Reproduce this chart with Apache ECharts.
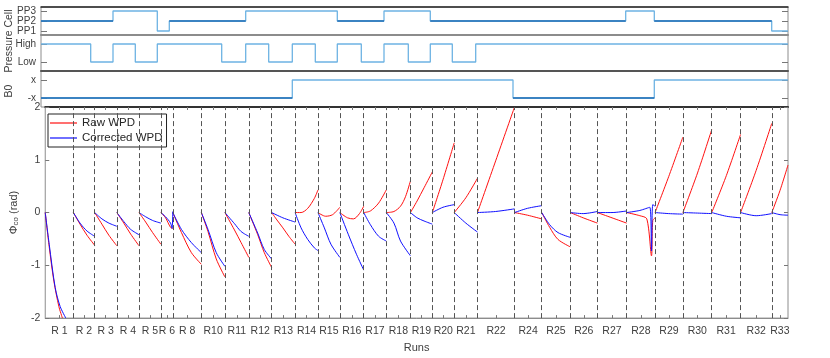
<!DOCTYPE html>
<html>
<head>
<meta charset="utf-8">
<script src="https://cdn.jsdelivr.net/npm/echarts@6/dist/echarts.min.js"></script>
<style>
  html, body { margin: 0; padding: 0; background: #fff; }
  #chart { width: 830px; height: 358px; }
</style>
</head>
<body>
<div id="chart"></div>
<script>
// run labels and run boundaries (time axis, arbitrary units)
const runLabels = ['R 1', 'R 2', 'R 3', 'R 4', 'R 5', 'R 6', 'R 8', 'R10', 'R11', 'R12',
  'R13', 'R14', 'R15', 'R16', 'R17', 'R18', 'R19', 'R20', 'R21', 'R22',
  'R24', 'R25', 'R26', 'R27', 'R28', 'R29', 'R30', 'R31', 'R32', 'R33'];
const runBounds = [0, 28.3, 49.7, 72, 94.3, 116.3, 128.3, 157, 180.7, 204.7,
  227.7, 251.3, 274.3, 296.3, 320.3, 343, 367.3, 389.3, 411.3, 434.7,
  472, 499.3, 528, 555.3, 584.7, 613.3, 641.3, 670.3, 699.3, 730.7, 747];

// top panels: [start, level]
const ppNames = ['PP1', 'PP2', 'PP3'];
const ppSteps = [[0, 2], [72, 3], [116.3, 1], [128.3, 2], [204.7, 3], [296.3, 2], [343, 3],
  [389.3, 2], [584.7, 3], [613.3, 2], [730.7, 1], [747, 1]];
const pressureNames = ['Low', 'High'];
const pressureSteps = [[0, 1], [49.7, 0], [72, 1], [94.3, 0], [116.3, 1], [180.7, 0], [204.7, 1],
  [227.7, 0], [251.3, 1], [274.3, 0], [296.3, 1], [320.3, 0], [343, 1], [367.3, 0],
  [389.3, 1], [411.3, 0], [434.7, 1], [747, 1]];
const b0Steps = [[0, -1], [251.3, 1], [472, -1], [613.3, 1], [747, 1]];

// phase per run, [t, rad]
const rawWPD = [
  [[0, 0], [4, -0.65], [8.7, -1.3], [13.7, -1.78], [17.3, -2.0]],
  [[28.3, 0], [35, -0.22], [42, -0.43], [49.7, -0.62]],
  [[49.7, 0], [57, -0.22], [64, -0.43], [72, -0.63]],
  [[72, 0], [79, -0.2], [86, -0.41], [94.3, -0.63]],
  [[94.3, 0], [101, -0.18], [108, -0.38], [116.3, -0.6]],
  [[116.3, 0], [121, -0.1], [126, -0.28], [128.3, -0.3]],
  [[128.3, 0], [137, -0.38], [147, -0.76], [157, -0.98]],
  [[157, 0], [163.7, -0.36], [172, -0.88], [180.7, -1.22]],
  [[180.7, 0], [190.3, -0.33], [197, -0.57], [204.7, -0.85]],
  [[204.7, 0], [213.7, -0.42], [220.3, -0.76], [227.7, -1.04]],
  [[227.7, 0], [233, -0.14], [239, -0.29], [245, -0.45], [251.3, -0.6]],
  [[251.3, 0], [257.3, 0.0], [264, 0.08], [270.7, 0.27], [274.3, 0.43]],
  [[274.3, 0], [282, -0.07], [289, -0.04], [296.3, 0.1]],
  [[296.3, 0], [304, -0.1], [310, -0.12], [316, -0.02], [320.3, 0.12]],
  [[320.3, 0], [327, 0.03], [335.3, 0.18], [343, 0.43]],
  [[343, 0], [350.7, 0.02], [357.3, 0.12], [362.3, 0.3], [367.3, 0.6]],
  [[367.3, 0], [374, 0.22], [381, 0.47], [389.3, 0.77]],
  [[389.3, 0], [400, 0.62], [411.3, 1.32]],
  [[411.3, 0], [423, 0.28], [434.7, 0.65]],
  [[434.7, 0], [453, 0.98], [472, 2.0]],
  [[472, 0], [485, -0.05], [499.3, -0.12]],
  [[499.3, 0], [507.3, -0.28], [515.7, -0.51], [528, -0.65]],
  [[528, 0], [541, -0.1], [555.3, -0.2]],
  [[555.3, 0], [570, -0.1], [584.7, -0.2]],
  [[584.7, 0], [598, -0.06], [605, -0.12], [609.7, -0.82], [611, -0.15], [613.3, -0.1]],
  [[613.3, 0], [627, 0.68], [641.3, 1.43]],
  [[641.3, 0], [656, 0.75], [670.3, 1.57]],
  [[670.3, 0], [685, 0.7], [699.3, 1.48]],
  [[699.3, 0], [715, 0.8], [730.7, 1.69]],
  [[730.7, 0], [739, 0.42], [747, 0.9]]
];
const corrWPD = [
  [[0, 0], [4, -0.6], [10, -1.42], [15, -1.78], [20.7, -2.0]],
  [[28.3, 0], [35, -0.2], [42, -0.35], [49.7, -0.45]],
  [[49.7, 0], [57, -0.12], [64, -0.2], [72, -0.26]],
  [[72, 0], [79, -0.17], [86, -0.32], [94.3, -0.42]],
  [[94.3, 0], [101, -0.08], [108, -0.15], [116.3, -0.2]],
  [[116.3, 0], [121, -0.08], [126, -0.2], [127.5, -0.3], [128.3, 0.02]],
  [[128.3, 0], [137, -0.32], [147, -0.57], [157, -0.76]],
  [[157, 0], [163.7, -0.32], [172, -0.76], [180.7, -1.02]],
  [[180.7, 0], [190.3, -0.21], [197, -0.36], [204.7, -0.45]],
  [[204.7, 0], [213.7, -0.39], [220.3, -0.7], [227.7, -0.88]],
  [[227.7, 0], [239, -0.1], [251.3, -0.18]],
  [[251.3, 0], [257.3, -0.29], [264, -0.51], [270.7, -0.67], [274.3, -0.72]],
  [[274.3, 0], [280.7, -0.29], [287.3, -0.6], [296.3, -0.85]],
  [[296.3, 0], [304.7, -0.41], [313, -0.79], [320.3, -1.09]],
  [[320.3, 0], [327, -0.23], [335.3, -0.45], [343, -0.54]],
  [[343, 0], [350.7, -0.2], [357.3, -0.54], [367.3, -0.82]],
  [[367.3, 0], [374, -0.1], [381, -0.16], [389.3, -0.22]],
  [[389.3, 0], [400, 0.1], [411.3, 0.15]],
  [[411.3, 0], [423, -0.2], [434.7, -0.37]],
  [[434.7, 0], [453, 0.02], [472, 0.07]],
  [[472, 0], [485, 0.08], [499.3, 0.13]],
  [[499.3, 0], [507.3, -0.23], [515.7, -0.38], [528, -0.47]],
  [[528, 0], [541, -0.02], [555.3, 0.02]],
  [[555.3, 0], [570, 0.0], [584.7, 0.03]],
  [[584.7, 0], [598, 0.04], [608, 0.1], [609.7, -0.73], [611, 0.15], [613.3, 0.12]],
  [[613.3, 0], [627, -0.02], [641.3, -0.03]],
  [[641.3, 0], [656, -0.01], [670.3, -0.02]],
  [[670.3, 0], [685, -0.07], [699.3, -0.1]],
  [[699.3, 0], [715, -0.06], [730.7, -0.02]],
  [[730.7, 0], [739, -0.04], [747, -0.05]]
];

const LIGHT = '#6db3e3';
const DARK = '#1f6db5';
const FONT = 'Liberation Sans, Arial, sans-serif';

const runCenters = runLabels.map((l, i) => (runBounds[i] + runBounds[i + 1]) / 2);

// concat runs, a null point breaks the line
const joinRuns = runs => {
  const out = [];
  runs.forEach(r => {
    r.forEach(p => out.push(p));
    out.push([r[r.length - 1][0], null]);
  });
  return out;
};

// horizontal pieces of a step signal sitting on one level
const levelPieces = (steps, level) => {
  const out = [];
  for (let i = 0; i < steps.length - 1; i++) {
    if (steps[i][1] === level) {
      out.push([steps[i][0], level], [steps[i + 1][0], level], [steps[i + 1][0], null]);
    }
  }
  return out;
};

const near = (a, b) => Math.abs(a - b) < 1e-6;

const gridTops = [7, 35, 71, 107];
const gridHeights = [28, 36, 36, 214];
const topLines = [['#262626', 1.5], ['#8c8c8c', 2], ['#555', 2], ['#333', 2]];

const yRanges = [[0.6, 3.4], [-0.5, 1.5], [-2, 2], [-2, 2]];
const yTicks = [[1, 2, 3], [0, 1], [-1, 1], [-2, -1, 0, 1, 2]];
const yFormat = [
  v => ppNames[Math.round(v) - 1],
  v => pressureNames[Math.round(v)],
  v => (v < 0 ? '-x' : 'x'),
  v => String(v)
];

var myChart = echarts.init(document.getElementById('chart'));

const getOptions = () => {
  const xAxis = [];
  const yAxis = [];
  for (let i = 0; i < 4; i++) {
    const isMain = i === 3;
    xAxis.push({
      gridIndex: i,
      type: 'value',
      min: 0,
      max: 747,
      show: isMain,
      splitLine: { show: false },
      axisLine: { show: true, onZero: false, lineStyle: { color: '#8c8c8c', width: 1 } },
      axisTick: {
        show: true, inside: true, length: 3, customValues: runCenters,
        lineStyle: { color: '#777' }
      },
      axisLabel: {
        customValues: runCenters,
        fontSize: 10.5,
        color: '#404040',
        margin: 8,
        formatter: val => {
          const idx = runCenters.findIndex(c => near(c, val));
          return idx >= 0 ? runLabels[idx] : '';
        }
      },
      name: isMain ? 'Runs' : '',
      nameLocation: 'middle',
      nameGap: 23,
      nameTextStyle: { fontSize: 11, color: '#404040' }
    });
  }
  for (let i = 0; i < 4; i++) {
    xAxis.push({
      gridIndex: i,
      type: 'value',
      position: 'top',
      min: 0,
      max: 747,
      splitLine: { show: false },
      axisLine: { show: true, onZero: false, lineStyle: { color: topLines[i][0], width: topLines[i][1] } },
      axisTick: {
        show: i === 3, inside: true, length: 3, customValues: runCenters,
        lineStyle: { color: '#777' }
      },
      axisLabel: { show: false }
    });
  }
  for (let side = 0; side < 2; side++) {
    for (let i = 0; i < 4; i++) {
      const y = {
        gridIndex: i,
        type: 'value',
        position: side === 0 ? 'left' : 'right',
        min: yRanges[i][0],
        max: yRanges[i][1],
        splitLine: { show: false },
        axisLine: { show: false, onZero: false },
        axisTick: {
          show: true, inside: true, length: i === 3 ? 4 : 6, customValues: yTicks[i],
          lineStyle: { color: '#777' }
        },
        axisLabel: {
          show: side === 0,
          customValues: yTicks[i],
          formatter: yFormat[i],
          fontSize: 10,
          lineHeight: 9,
          hideOverlap: false,
          color: '#404040',
          margin: 5
        }
      };
      if (i === 3 && side === 0) {
        y.axisLabel.fontSize = 10.5;
        y.axisLabel.lineHeight = 12;
        y.name = '{a|Φ}{s|co}{a| (rad)}';
        y.nameLocation = 'middle';
        y.nameGap = 23;
        y.nameTextStyle = {
          rich: {
            a: { fontSize: 11, color: '#404040', fontFamily: FONT },
            s: { fontSize: 8, color: '#404040', fontFamily: FONT, padding: [5, 0, 0, 0] }
          }
        };
      }
      yAxis.push(y);
    }
  }

  const stepLine = (idx, data, color) => ({
    type: 'line', xAxisIndex: idx, yAxisIndex: idx, data: data,
    step: 'end', symbol: 'none', silent: true,
    lineStyle: { color: color, width: 1.3 }, itemStyle: { color: color }
  });
  const flatLine = (idx, data, color) => ({
    type: 'line', xAxisIndex: idx, yAxisIndex: idx, data: data,
    symbol: 'none', silent: true, connectNulls: false,
    lineStyle: { color: color, width: 1.3 }, itemStyle: { color: color }
  });

  return {
    animation: false,
    textStyle: { fontFamily: FONT },
    grid: gridTops.map((t, i) => ({
      left: 41, right: 42, top: t, height: gridHeights[i],
      show: true, borderColor: '#8c8c8c', borderWidth: 1, backgroundColor: '#fff'
    })),
    legend: {
      data: ['Raw WPD', 'Corrected WPD'],
      orient: 'vertical',
      left: 48,
      top: 114,
      padding: [3, 4, 3, 2],
      itemGap: 3,
      itemWidth: 27,
      itemHeight: 1.2,
      icon: 'rect',
      backgroundColor: '#fff',
      borderColor: '#222',
      borderWidth: 1,
      textStyle: { fontSize: 11.5, color: '#262626', fontFamily: FONT }
    },
    graphic: [
      {
        type: 'text', x: 9, y: 41, rotation: Math.PI / 2,
        style: {
          text: 'Pressure Cell', fontSize: 10.5, fill: '#404040', fontFamily: FONT,
          textAlign: 'center', textVerticalAlign: 'middle'
        }
      },
      {
        type: 'text', x: 9, y: 91, rotation: Math.PI / 2,
        style: {
          text: 'B0', fontSize: 10.5, fill: '#404040', fontFamily: FONT,
          textAlign: 'center', textVerticalAlign: 'middle'
        }
      }
    ],
    xAxis: xAxis,
    yAxis: yAxis,
    series: [
      stepLine(0, ppSteps, LIGHT),
      flatLine(0, levelPieces(ppSteps, 2), DARK),
      stepLine(1, pressureSteps, LIGHT),
      stepLine(2, b0Steps, LIGHT),
      flatLine(2, levelPieces(b0Steps, -1), DARK),
      {
        name: 'Raw WPD',
        type: 'line',
        xAxisIndex: 3,
        yAxisIndex: 3,
        data: joinRuns(rawWPD),
        smooth: 0.3,
        symbol: 'none',
        connectNulls: false,
        lineStyle: { color: '#ff1010', width: 1 },
        itemStyle: { color: '#ff1010' },
        markLine: {
          silent: true,
          symbol: 'none',
          label: { show: false },
          lineStyle: { color: '#555', type: [5, 3], width: 1 },
          data: runBounds.slice(1, -1).map(b => ({ xAxis: b }))
        }
      },
      {
        name: 'Corrected WPD',
        type: 'line',
        xAxisIndex: 3,
        yAxisIndex: 3,
        data: joinRuns(corrWPD),
        smooth: 0.3,
        symbol: 'none',
        connectNulls: false,
        lineStyle: { color: '#1010ff', width: 1 },
        itemStyle: { color: '#1010ff' }
      }
    ]
  };
};

myChart.setOption(getOptions(), true);
</script>
</body>
</html>
